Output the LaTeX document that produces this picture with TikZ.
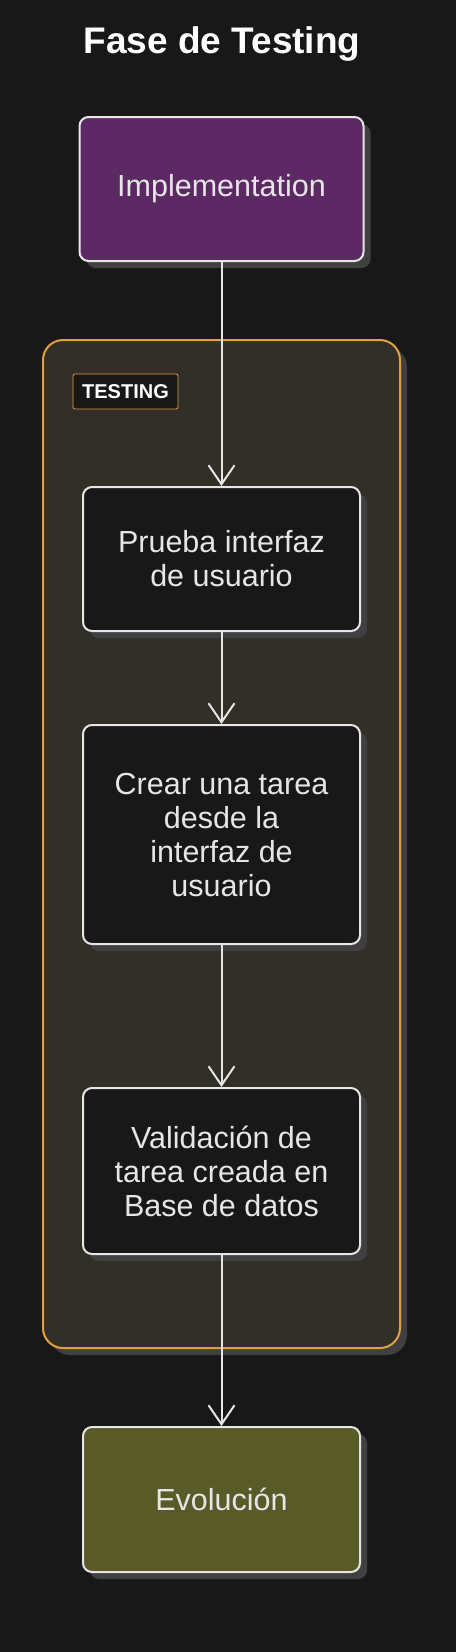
\documentclass[tikz,border=0pt]{standalone}
\usepackage{fontspec}
\usetikzlibrary{arrows.meta,shadows}
\newfontfamily\boxfont{Liberation Sans}
\newfontfamily\headfont{Liberation Sans}
\definecolor{bgdark}{HTML}{181818}
\definecolor{implfill}{HTML}{5D2964}
\definecolor{evolfill}{HTML}{585A28}
\definecolor{groupfill}{HTML}{322E28}
\definecolor{groupline}{HTML}{E0A040}
\definecolor{shadowgray}{HTML}{404040}
\definecolor{inktext}{HTML}{E6E6E6}

\begin{document}
\begin{tikzpicture}[x=1pt,y=-1pt,line width=2pt,
        >={Straight Barb[length=19pt,width=26pt,line width=2pt]},
        taskbox/.style={draw=inktext,rounded corners=9pt,fill=bgdark,
          text=inktext,align=center,minimum width=277pt,
          font=\boxfont\fontsize{30.5}{34}\selectfont,
          drop shadow={shadow xshift=7pt,shadow yshift=-7pt,fill=shadowgray,opacity=1}},
        flow/.style={->,draw=inktext}]
   \fill[bgdark](0,0)rectangle(456,1652);
   \useasboundingbox(0,0)rectangle(456,1652);
   \node(title)at(222,44){\headfont\bfseries\fontsize{37}{40}\selectfont\color{white}Fase de Testing};
   % grupo de testing
   \fill[shadowgray,rounded corners=20pt](50,347)rectangle(407,1355);
   \draw[groupline,fill=groupfill,rounded corners=20pt](43,340)rectangle(400,1348);
   \node[draw=groupline,line width=0.8pt,fill=bgdark,rounded corners=2pt,
     minimum width=105pt,minimum height=35pt,inner sep=0pt](testlbl)at(125.5,391.5)
     {\headfont\bfseries\fontsize{20}{22}\selectfont\color{white}TESTING};
   % pasos
   \node[taskbox,fill=implfill,minimum width=284pt,minimum height=144pt](impl)at(221.5,189){Implementation};
   \node[taskbox,minimum height=144pt](prueba)at(221.5,559){Prueba interfaz\\de usuario};
   \node[taskbox,minimum height=219pt](crear)at(221.5,834.5){Crear una tarea\\desde la\\interfaz de\\usuario};
   \node[taskbox,minimum height=166pt](valid)at(221.5,1171){Validación de\\tarea creada en\\Base de datos};
   \node[taskbox,fill=evolfill,minimum height=145pt](evol)at(221.5,1499.5){Evolución};
   \draw[flow](impl)--(prueba);
   \draw[flow](prueba)--(crear);
   \draw[flow](crear)--(valid);
   \draw[flow](valid)--(evol);
\end{tikzpicture}
\end{document}
